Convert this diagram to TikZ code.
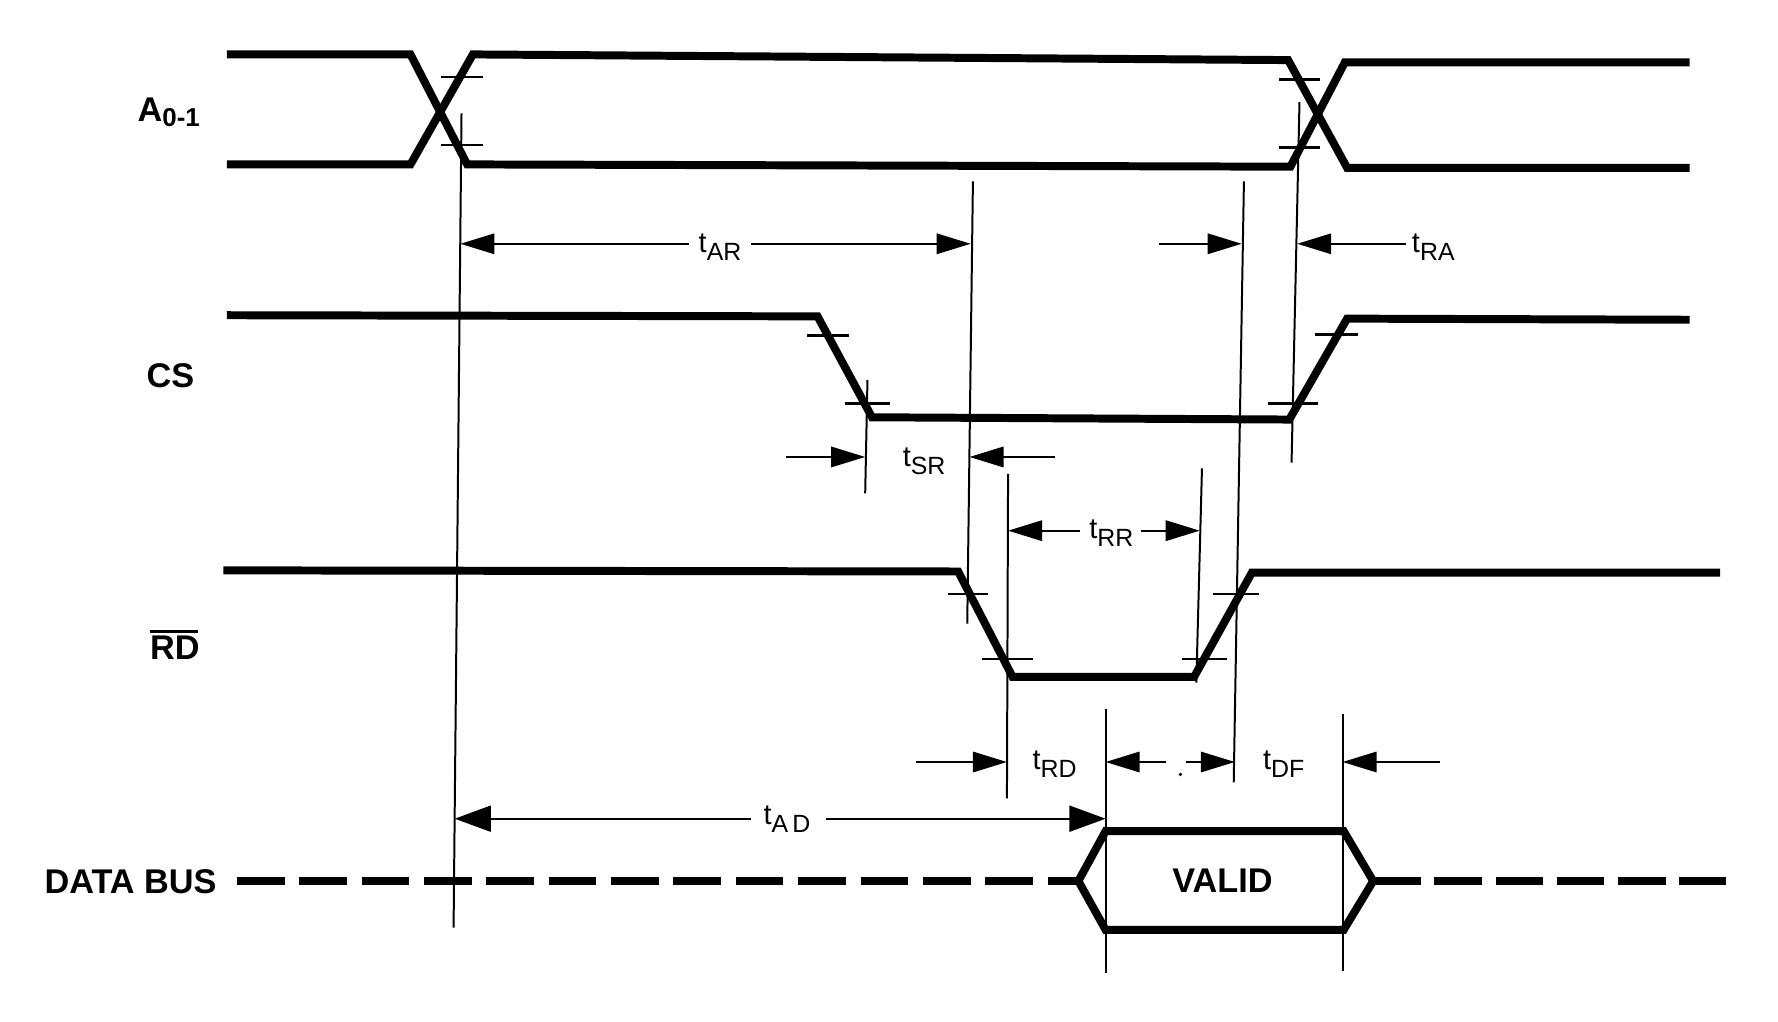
\documentclass[tikz,border=0pt]{standalone}
\usepackage{fontspec}
\setmainfont{Liberation Sans}
\usetikzlibrary{arrows.meta}
\tikzset{
  sig/.style={line width=4pt, line join=miter},
  refline/.style={line width=1pt},
  tickmark/.style={line width=1.2pt},
  dim/.style={line width=1pt, -{Triangle[length=0.6cm,width=0.36cm]}},
  dimbig/.style={line width=1pt, -{Triangle[length=0.64cm,width=0.46cm]}},
  lab/.style={font=\bfseries\fontsize{17.2}{19}\selectfont, inner sep=0pt, anchor=base west},
  tlab/.style={inner sep=0pt, anchor=center},
}
\newcommand\tsub[1]{{\fontsize{14.5}{15}\selectfont t\raisebox{-0.14cm}{\fontsize{12.5}{13}\selectfont #1}}}
\begin{document}
\begin{tikzpicture}[x=0.02cm, y=-0.02cm]
\useasboundingbox[fill=white] (0,0) rectangle (1568,901);

% ---- signal labels
\node[lab] (la) at (121,107) {A\raisebox{-0.1cm}{\fontsize{13}{13}\selectfont 0-1}};
\node[lab] (lcs) at (129,342) {CS};
\node[lab] (lrd) at (132,582) {RD};
\draw[line width=1.3pt] (lrd.north west) ++(0,-4) -- ++(43,0);
\node[lab] (ldb) at (39,788) {DATA BUS};

% ---- A0-1
\draw[sig] (200,48) -- (362,48) -- (412,145) -- (1138,147) -- (1186,55) -- (1490,55);
\draw[sig] (200,145) -- (362,145) -- (417,48) -- (1136,53) -- (1188,148) -- (1490,148);
\draw[tickmark] (389,68) -- (426,68);
\draw[tickmark] (389,128) -- (426,128);
\draw[tickmark] (1128,70) -- (1164,70);
\draw[tickmark] (1128,130) -- (1164,130);

% ---- CS
\draw[sig] (200,278) -- (721,279) -- (769,368) -- (1137,370) -- (1188,281) -- (1490,282);
\draw[tickmark] (712,296) -- (749,296);
\draw[tickmark] (745,356) -- (785,356);
\draw[tickmark] (1118,356) -- (1162,356);
\draw[tickmark] (1160,295) -- (1198,295);

% ---- RD
\draw[sig] (197,503) -- (845,504) -- (893,597) -- (1053,597) -- (1104,505) -- (1517,505);
\draw[tickmark] (836,524) -- (871,524);
\draw[tickmark] (866,581) -- (911,581);
\draw[tickmark] (1042,581) -- (1082,581);
\draw[tickmark] (1070,524) -- (1110,524);

% ---- DATA BUS
\draw[sig, dash pattern=on 0.84cm off 0.26cm] (209,777) -- (951,777);
\draw[sig] (951,777) -- (975,733) -- (1185,733) -- (1211,777) -- (1185,820) -- (975,820) -- cycle;
\draw[sig, dash pattern=on 0.84cm off 0.24cm] (1211,777) -- (1522,777);
\node[lab, anchor=center] (valid) at (1078,777) {VALID};

% ---- reference lines
\coordinate (v1t) at (407,100);  \coordinate (v1b) at (400,818);
\coordinate (v2t) at (858,160);  \coordinate (v2b) at (853,550);
\coordinate (v3t) at (1097,160); \coordinate (v3b) at (1088,690);
\coordinate (v4t) at (1146,90);  \coordinate (v4b) at (1139,408);
\coordinate (v5t) at (765,335);  \coordinate (v5b) at (763,435);
\coordinate (v6t) at (889,418);  \coordinate (v6b) at (888,704);
\coordinate (v7t) at (1060,413); \coordinate (v7b) at (1055,602);
\coordinate (v8t) at (975,625);  \coordinate (v8b) at (975,858);
\coordinate (v9t) at (1184,630); \coordinate (v9b) at (1184,856);
\foreach \v in {v1,v2,v3,v4,v5,v6,v7,v8,v9} \draw[refline] (\v t) -- (\v b);

% ---- tAR
\node[tlab] (tar) at (635,218) {\tsub{AR}};
\draw[dim] (608,215) -- (406,215);
\draw[dim] (662,215) -- (856,215);
% ---- tRA
\node[tlab] (tra) at (1264,218) {\tsub{RA}};
\draw[dim] (1022,215) -- (1095,215);
\draw[dim] (1240,215) -- (1144,215);
% ---- tSR
\node[tlab] (tsr) at (815,407) {\tsub{SR}};
\draw[dim] (693,403) -- (763,403);
\draw[dim] (930,403) -- (855,403);
% ---- tRR
\node[tlab] (trr) at (980,470) {\tsub{RR}};
\draw[dim] (952,468) -- (889,468);
\draw[dim] (1006,468) -- (1058,468);
% ---- tRD / tDF
\node[tlab] (trd) at (930,674) {\tsub{RD}};
\draw[dim] (808,672) -- (888,672);
\draw[dim] (1028,672) -- (975,672);
\fill (1041,683) circle[radius=1.6];
\draw[dim] (1046,672) -- (1089,672);
\node[tlab] (tdf) at (1132,674) {\tsub{DF}};
\draw[dim] (1270,672) -- (1184,672);
% ---- tAD
\node[tlab] (tad) at (694,722) {\tsub{A\,D}};
\draw[dimbig] (662,722) -- (401,722);
\draw[dimbig] (728,722) -- (975,722);
\end{tikzpicture}
\end{document}
